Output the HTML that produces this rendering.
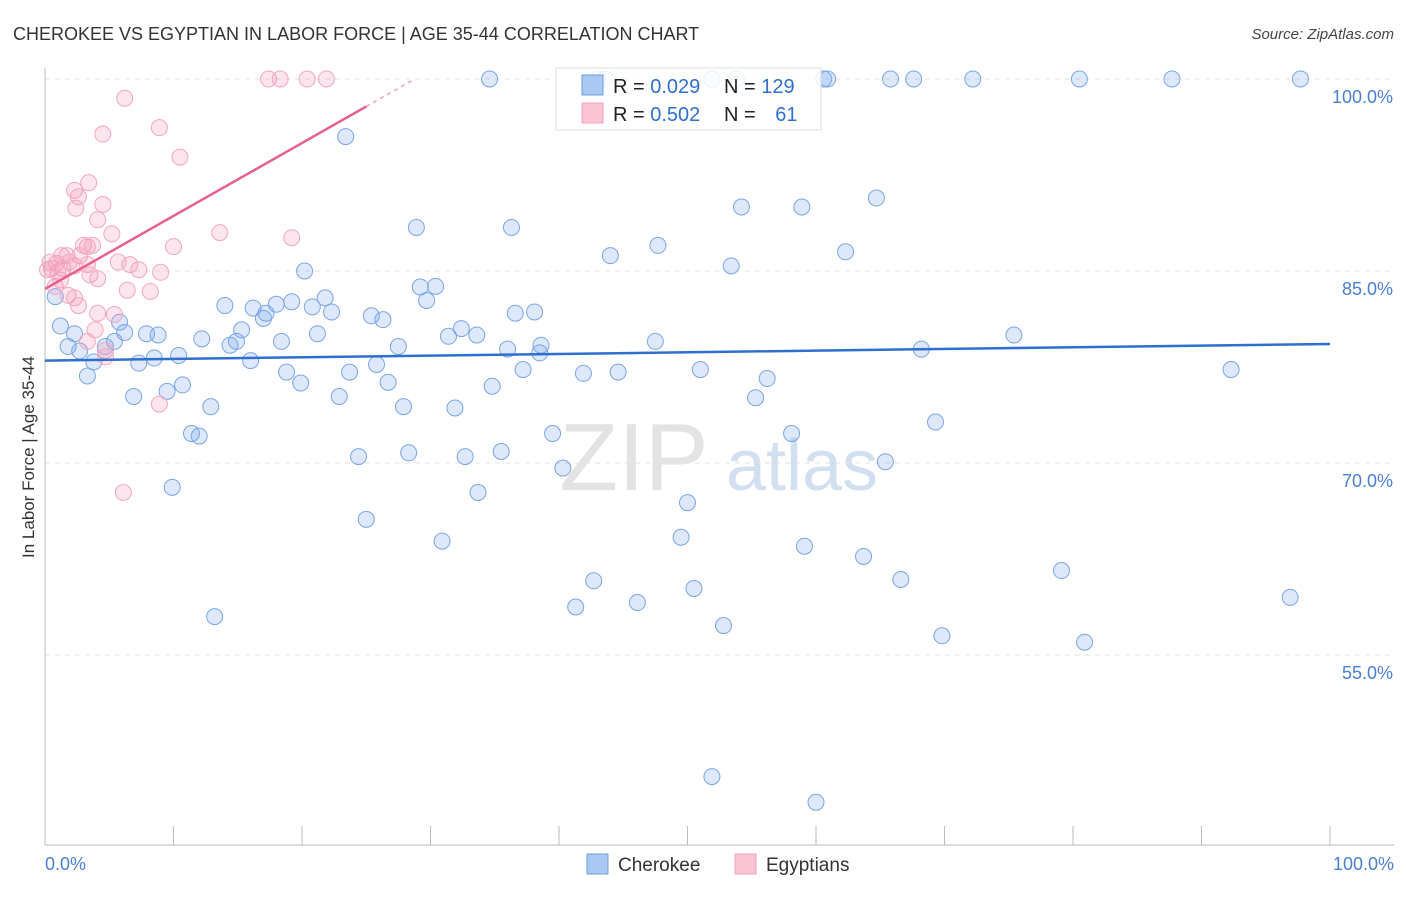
<!DOCTYPE html>
<html><head><meta charset="utf-8"><style>
body{margin:0;background:#fff;font-family:"Liberation Sans",sans-serif;}
svg text{font-family:"Liberation Sans",sans-serif;}
</style></head><body>
<svg id="chart" width="1406" height="892" xmlns="http://www.w3.org/2000/svg">
<text x="13" y="40" font-size="18" fill="#333">CHEROKEE VS EGYPTIAN IN LABOR FORCE | AGE 35-44 CORRELATION CHART</text>
<text x="1394" y="39" font-size="15" fill="#444" font-style="italic" text-anchor="end">Source: ZipAtlas.com</text>
<text transform="translate(34,457) rotate(-90)" font-size="17" fill="#333" text-anchor="middle">In Labor Force | Age 35-44</text>
<g><text x="634" y="490" font-size="96" fill="#ddd" font-family="Liberation Serif" text-anchor="middle" opacity="0.8">ZIP</text><text x="802" y="490" font-size="72" fill="#c8d8ee" text-anchor="middle" opacity="0.8">atlas</text></g>
<g id="grid"></g><g id="axes"></g><g id="pts"></g><g id="trend"></g>
<g>
<rect x="556" y="68" width="265" height="62" fill="#fff" fill-opacity="0.85" stroke="#ddd"/>
<rect x="582" y="75" width="21" height="20" fill="#a9c8f2" stroke="#6f9de0"/>
<rect x="582" y="103" width="21" height="20" fill="#fbc4d4" stroke="#f0a0bc"/>
<text x="613" y="93" font-size="20" fill="#222">R = <tspan fill="#2f6fd0">0.029</tspan></text>
<text x="724" y="93" font-size="20" fill="#222">N = <tspan fill="#2f6fd0">129</tspan></text>
<text x="613" y="121" font-size="20" fill="#222">R = <tspan fill="#2f6fd0">0.502</tspan></text>
<text x="724" y="121" font-size="20" fill="#222">N = <tspan fill="#2f6fd0" dx="14">61</tspan></text>
</g>
<g>
<rect x="587" y="854" width="21" height="20" fill="#a9c8f2" stroke="#6f9de0"/>
<text x="618" y="871" font-size="19" fill="#333">Cherokee</text>
<rect x="735" y="854" width="21" height="20" fill="#fbc4d4" stroke="#f0a0bc"/>
<text x="766" y="871" font-size="19" fill="#333">Egyptians</text>
</g>
</svg>
<script>
const yTicks=[100,85,70,55];
const yTickLabels=["100.0%","85.0%","70.0%","55.0%"];
const xTickLabels=["0.0%","100.0%"];
const blueX=[34.6,43.6,43.0,51.9,53.8,60.6,60.9,65.8,67.6,72.2,80.5,87.7,97.7,23.4,28.9,36.3,54.2,58.9,64.7,47.7,62.3,44.0,53.4,20.2,29.2,30.4,29.7,0.8,14.0,16.2,18.0,19.2,21.8,20.8,22.3,17.2,17.0,25.4,26.3,38.1,36.6,32.4,31.4,33.6,5.8,1.2,2.3,6.2,7.9,8.8,15.3,21.2,12.2,14.9,14.4,5.4,4.7,1.8,2.7,3.8,7.3,8.5,10.4,16.0,18.4,27.5,36.0,38.6,38.5,47.5,68.2,75.4,3.3,10.7,9.5,6.9,12.9,18.8,19.9,23.7,25.8,26.7,22.9,27.9,31.9,34.8,37.2,41.9,44.6,51.0,56.2,55.3,92.3,11.4,12.0,39.5,58.1,69.3,24.4,28.3,32.7,35.5,40.3,65.4,9.9,33.7,50.0,25.0,30.9,49.5,59.1,63.7,42.7,41.3,46.1,50.5,52.8,66.6,79.1,96.9,13.2,69.8,80.9,51.9,60.0];
const blueY=[100,100,100,100,100,100,100,100,100,100,100,100,100,95.5,88.4,88.4,90.0,90.0,90.7,87.0,86.5,86.2,85.4,85.0,83.75,83.8,82.7,83.0,82.3,82.1,82.4,82.6,82.9,82.2,81.8,81.7,81.3,81.5,81.2,81.8,81.7,80.5,79.9,80.0,81.0,80.7,80.1,80.2,80.1,80.0,80.4,80.1,79.7,79.5,79.2,79.5,79.1,79.1,78.75,77.9,77.8,78.2,78.4,78.0,79.5,79.1,78.9,79.2,78.6,79.5,78.9,80.0,76.8,76.1,75.6,75.2,74.4,77.1,76.25,77.1,77.7,76.3,75.2,74.4,74.3,76.0,77.3,77.0,77.1,77.3,76.6,75.1,77.3,72.3,72.1,72.3,72.3,73.2,70.5,70.8,70.5,70.9,69.6,70.1,68.1,67.7,66.9,65.6,63.9,64.2,63.5,62.7,60.8,58.75,59.1,60.2,57.3,60.9,61.6,59.5,58.0,56.5,56.0,45.5,43.5];
const pinkX=[17.4,18.3,20.4,21.9,6.2,4.5,8.9,10.5,3.4,2.3,2.6,4.5,2.4,4.1,5.2,13.6,19.2,10.0,3.0,3.3,3.7,1.3,1.7,2.7,1.9,0.4,0.9,1.4,1.0,0.5,0.2,2.3,5.7,6.6,7.3,9.0,3.3,3.5,4.1,6.4,8.2,1.8,2.3,2.6,4.1,5.4,3.9,3.3,4.7,4.7,8.9,6.1,0.8,1.2];
const pinkY=[100,100,100,100,98.5,95.7,96.2,93.9,91.9,91.3,90.8,90.2,89.9,89.0,87.9,88.0,87.6,86.9,87.0,86.9,87.0,86.2,86.2,86.2,85.7,85.7,85.6,85.2,84.9,85.2,85.1,85.4,85.7,85.5,85.1,84.9,85.5,84.7,84.4,83.5,83.4,83.1,82.9,82.3,81.7,81.6,80.4,79.5,78.8,78.3,74.6,67.7,83.8,84.3];
const blueTrend=[78.0,79.3];
const pinkTrend=[83.6,0.57];
const NS="http://www.w3.org/2000/svg";
const X0=45,X1=1330,Y100=79,PXPER=12.8;
const sx=v=>X0+(X1-X0)*v/100;
const sy=v=>Y100+(100-v)*PXPER;
function mk(tag,attrs,parent){const e=document.createElementNS(NS,tag);for(const k in attrs)e.setAttribute(k,attrs[k]);document.getElementById(parent).appendChild(e);return e;}
yTicks.forEach((t,i)=>{
 const l=mk('line',{x1:45,x2:1394,y1:sy(t),y2:sy(t),stroke:'#e2e2e2','stroke-dasharray':'5,5'},'grid');
 
 
 const tx=mk('text',{x:1393,y:sy(t)+24,'font-size':18,fill:'#4a7fd4','text-anchor':'end'},'grid');
 tx.textContent=yTickLabels[i];
 
 
});
const ax=mk('line',{x1:45,x2:1394,y1:845,y2:845,stroke:'#bbb'},'axes');


const ay=mk('line',{x1:45,x2:45,y1:68,y2:845,stroke:'#bbb'},'axes');


for(let i=1;i<=10;i++){const t=mk('line',{x1:sx(i*10),x2:sx(i*10),y1:826,y2:845,stroke:'#bbb'},'axes');
 
 }
[[0,'start',45],[100,'end',1394]].forEach((d,i)=>{const t=mk('text',{x:d[2],y:870,'font-size':18,fill:'#4a7fd4','text-anchor':d[1]},'axes');t.textContent=xTickLabels[i];
 
 });
blueX.forEach((v,i)=>{const c=mk('circle',{cx:sx(v),cy:sy(blueY[i]),r:8,fill:'rgba(120,165,235,0.25)',stroke:'#7aa5e6','stroke-width':1},'pts');
 
 });
pinkX.forEach((v,i)=>{const c=mk('circle',{cx:sx(v),cy:sy(pinkY[i]),r:8,fill:'rgba(245,150,185,0.25)',stroke:'#f2a6c2','stroke-width':1},'pts');
 
 });
const bt=mk('line',{x1:sx(0),y1:sy(blueTrend[0]),x2:sx(100),y2:sy(blueTrend[1]),stroke:'#2f6fd0','stroke-width':2.5},'trend');


const pe=(100-pinkTrend[0])/pinkTrend[1], ps=25;
const pt=mk('line',{x1:sx(0),y1:sy(pinkTrend[0]),x2:sx(ps),y2:sy(pinkTrend[0]+pinkTrend[1]*ps),stroke:'#e8608c','stroke-width':2.5},'trend');


const pd=mk('line',{x1:sx(ps),y1:sy(pinkTrend[0]+pinkTrend[1]*ps),x2:sx(pe),y2:sy(100),stroke:'#f0a0bc','stroke-width':1.5,'stroke-dasharray':'4,4'},'trend');


</script>
</body></html>
